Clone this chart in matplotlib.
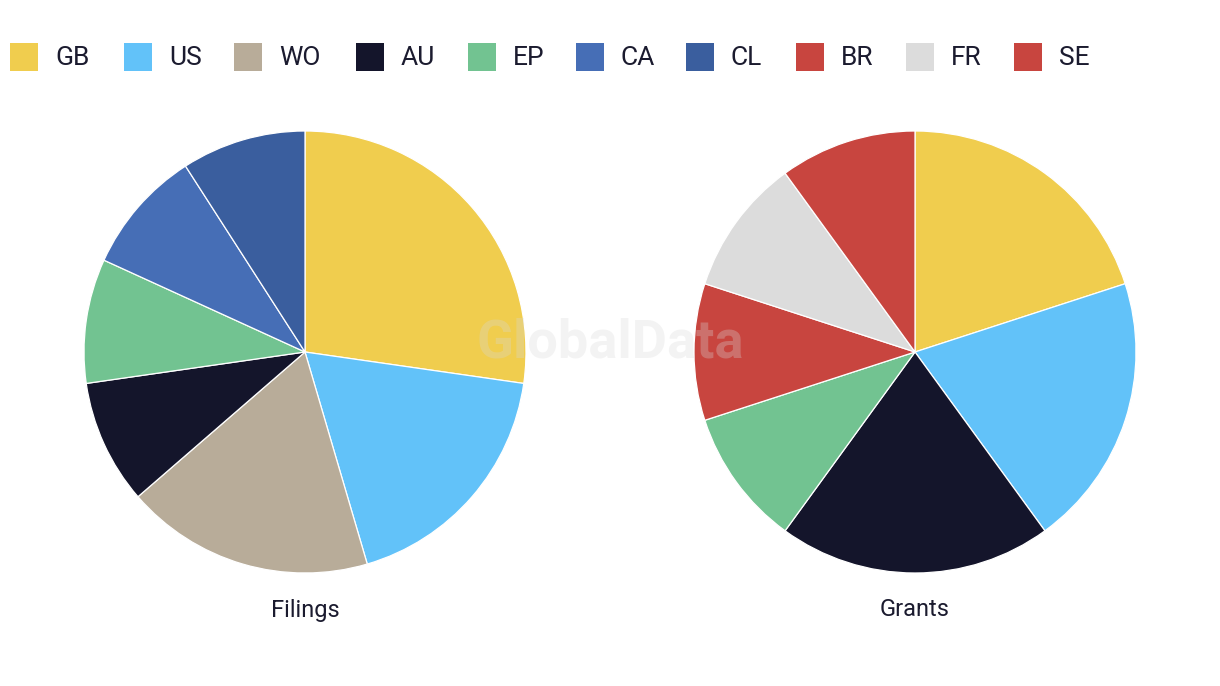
import matplotlib.pyplot as plt
from matplotlib.patches import Rectangle

plt.rcParams['font.family'] = ['Roboto', 'DejaVu Sans']

# legend entries
legend_labels = ["GB", "US", "WO", "AU", "EP", "CA", "CL", "BR", "FR", "SE"]
legend_colors = ["#F0CD4E", "#62C2F9", "#B8AC99", "#14152B", "#72C391",
                 "#466EB6", "#3A5E9E", "#C8453F", "#DCDCDC", "#C8453F"]

# pie data
filings_labels = ["GB", "US", "WO", "AU", "EP", "CA", "CL"]
filings_values = [3, 2, 2, 1, 1, 1, 1]
grants_labels = ["GB", "US", "AU", "EP", "BR", "FR", "SE"]
grants_values = [2, 2, 2, 1, 1, 1, 1]

color_of = dict(zip(legend_labels, legend_colors))
text_color = "#1B1B2F"

W, H = 1220, 686
fig = plt.figure(figsize=(W / 100, H / 100), dpi=100)

def draw_pie(cx, cy, r, labels, values, title):
    ax = fig.add_axes([(cx - r) / W, 1 - (cy + r) / H, 2 * r / W, 2 * r / H])
    ax.pie(values, colors=[color_of[l] for l in labels], startangle=90,
           counterclock=False, radius=1,
           wedgeprops=dict(edgecolor="white", linewidth=0.9))
    ax.set_xlim(-1, 1)
    ax.set_ylim(-1, 1)
    ax.set_aspect("equal")
    ax.axis("off")
    fig.text(cx / W, 1 - 610 / H, title, ha="center", va="center",
             fontsize=17, color=text_color)

draw_pie(305, 352, 221, filings_labels, filings_values, "Filings")
draw_pie(915, 352, 221, grants_labels, grants_values, "Grants")

# legend along the top
legend_x = [10, 124, 234, 356, 468, 576, 686, 796, 906, 1014]
for x, lab, col in zip(legend_x, legend_labels, legend_colors):
    fig.patches.append(Rectangle((x / W, 1 - 71 / H), 28 / W, 28 / H,
                                 transform=fig.transFigure, facecolor=col,
                                 edgecolor="none"))
    fig.text((x + 45) / W, 1 - 58 / H, lab, ha="left", va="center",
             fontsize=19, color=text_color)

# watermark
fig.text(610 / W, 1 - 343 / H, "GlobalData", ha="center", va="center",
         fontsize=39, fontweight="bold", color="#d8d8d8", alpha=0.3,
         zorder=10)

fig.savefig("out.png", dpi=100, facecolor="white")
